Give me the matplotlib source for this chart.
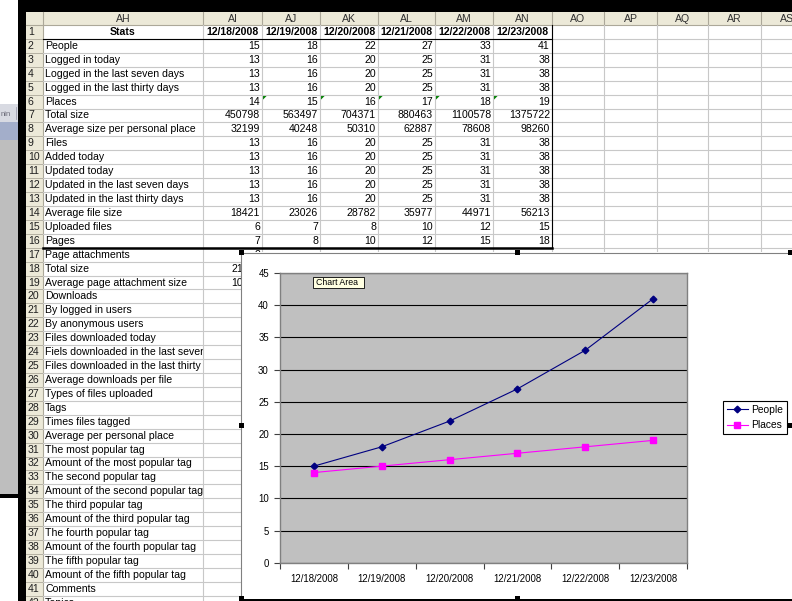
import matplotlib
matplotlib.use('Agg')
import matplotlib.pyplot as plt
from matplotlib.patches import Rectangle
from matplotlib.lines import Line2D

plt.rcParams['font.family'] = ['Liberation Sans', 'DejaVu Sans']

W, H = 792, 601

# --- data ---
dates = ['12/18/2008', '12/19/2008', '12/20/2008', '12/21/2008', '12/22/2008', '12/23/2008']
people = [15, 18, 22, 27, 33, 41]
logged_in = [13, 16, 20, 25, 31, 38]
places = [14, 15, 16, 17, 18, 19]
total_size = [450798, 563497, 704371, 880463, 1100578, 1375722]
avg_place_size = [32199, 40248, 50310, 62887, 78608, 98260]
files = [13, 16, 20, 25, 31, 38]
avg_file_size = [18421, 23026, 28782, 35977, 44971, 56213]
uploaded = [6, 7, 8, 10, 12, 15]
pages = [7, 8, 10, 12, 15, 18]
attach_first_day = ['2', '21106', '10553']

stat_labels = [
    'People', 'Logged in today', 'Logged in the last seven days',
    'Logged in the last thirty days', 'Places', 'Total size',
    'Average size per personal place', 'Files', 'Added today', 'Updated today',
    'Updated in the last seven days', 'Updated in the last thirty days',
    'Average file size', 'Uploaded files', 'Pages', 'Page attachments',
    'Total size', 'Average page attachment size', 'Downloads',
    'By logged in users', 'By anonymous users', 'Files downloaded today',
    'Fiels downloaded in the last seven days',
    'Files downloaded in the last thirty days', 'Average downloads per file',
    'Types of files uploaded', 'Tags', 'Times files tagged',
    'Average per personal place', 'The most popular tag',
    'Amount of the most popular tag', 'The second popular tag',
    'Amount of the second popular tag', 'The third popular tag',
    'Amount of the third popular tag', 'The fourth popular tag',
    'Amount of the fourth popular tag', 'The fifth popular tag',
    'Amount of the fifth popular tag', 'Comments', 'Topics',
]
table_values = [people, logged_in, logged_in, logged_in, places, total_size,
                avg_place_size, files, files, files, files, files,
                avg_file_size, uploaded, pages]
col_letters = ['AH', 'AI', 'AJ', 'AK', 'AL', 'AM', 'AN', 'AO', 'AP', 'AQ', 'AR', 'AS']

# --- sheet geometry (pixels) ---
col_edges = [43, 203, 262, 320, 378, 435, 493, 552, 604, 657, 708, 761, 814]
hdr_top, hdr_bot = 12, 25
row_h = 13.92
FS = 7.6
grid_c = '#C8C8C8'
hdr_c = '#ECE9D8'


def row_top(n):
    return hdr_bot + (n - 1) * row_h


fig = plt.figure(figsize=(W / 100, H / 100), dpi=100)
ax = fig.add_axes([0, 0, 1, 1])
ax.set_xlim(0, W)
ax.set_ylim(H, 0)
ax.axis('off')

# window pieces on the left
ax.add_patch(Rectangle((0, 104), 18, 18, fc='#D8DAE2', ec='none'))
ax.text(1, 114, 'nin', fontsize=5.5, color='#6A6A78', va='center')
ax.plot([16, 16], [107, 119], color='#A0A0B0', lw=0.6)
ax.add_patch(Rectangle((0, 122), 18, 18, fc='#A3AECA', ec='none'))
ax.add_patch(Rectangle((0, 140), 18, 354, fc='#BEBEBE', ec='none'))
ax.add_patch(Rectangle((0, 494), 18, 4, fc='black', ec='none'))
ax.add_patch(Rectangle((18, 0), W - 18, hdr_top, fc='black', ec='none'))
ax.add_patch(Rectangle((18, 0), 8, H, fc='black', ec='none'))

# header row and row header column
ax.add_patch(Rectangle((26, hdr_top), W - 26, hdr_bot - hdr_top, fc=hdr_c, ec='none'))
ax.add_patch(Rectangle((26, hdr_bot), 43 - 26, H - hdr_bot, fc=hdr_c, ec='none'))
for i, lab in enumerate(col_letters):
    x0, x1 = col_edges[i], col_edges[i + 1]
    ax.plot([x0, x0], [hdr_top, hdr_bot], color='#ACA899', lw=0.8)
    ax.text((x0 + x1) / 2, 18.8, lab, ha='center', va='center', fontsize=FS, color='#303030')
ax.plot([26, W], [hdr_bot, hdr_bot], color='#ACA899', lw=0.8)
ax.plot([43, 43], [hdr_bot, H], color='#ACA899', lw=0.8)

n_rows = len(stat_labels) + 1
for n in range(1, n_rows + 1):
    t = row_top(n)
    ax.plot([26, 43], [t + row_h, t + row_h], color='#ACA899', lw=0.6)
    ax.text(28, t + row_h / 2, str(n), ha='left', va='center', fontsize=FS, color='#202020')
    ax.plot([43, W], [t + row_h, t + row_h], color=grid_c, lw=0.8)
for x in col_edges[1:-1]:
    ax.plot([x, x], [hdr_bot, H], color=grid_c, lw=0.8)

# row 1 headings
ax.text((43 + 203) / 2, row_top(1) + row_h / 2, 'Stats', ha='center', va='center',
        fontsize=FS, fontweight='bold')
for i, d in enumerate(dates):
    x0, x1 = col_edges[i + 1], col_edges[i + 2]
    ax.text((x0 + x1) / 2, row_top(1) + row_h / 2, d, ha='center', va='center',
            fontsize=FS, fontweight='bold')

# labels in column AH, cut at the cell edge
for k, lab in enumerate(stat_labels):
    n = k + 2
    t = row_top(n)
    clip = Rectangle((43, t), 160, row_h, transform=ax.transData)
    txt = ax.text(45, t + row_h / 2, lab, ha='left', va='center', fontsize=FS)
    txt.set_clip_on(True)
    txt.set_clip_path(clip)

# numbers
for k, vals in enumerate(table_values):
    n = k + 2
    t = row_top(n)
    for i, v in enumerate(vals):
        x1 = col_edges[i + 2]
        ax.text(x1 - 2, t + row_h / 2, str(v), ha='right', va='center', fontsize=FS)
        if n == 6 and i > 0:
            x0 = col_edges[i + 1]
            ax.fill([x0 + 1, x0 + 5, x0 + 1], [t + 1, t + 1, t + 5], color='#008000', lw=0)
for k, v in enumerate(attach_first_day):
    t = row_top(17 + k)
    ax.text(260, t + row_h / 2, v, ha='right', va='center', fontsize=FS)

# table borders
ax.plot([43, 552], [row_top(2), row_top(2)], color='black', lw=0.8)
ax.plot([552, 552], [hdr_bot, row_top(17)], color='black', lw=0.8)
ax.plot([43, 552], [row_top(17), row_top(17)], color='black', lw=1.8)

# chart area
ax.add_patch(Rectangle((241, 252), W - 241, H - 252, fc='white', ec='none', zorder=5))
ax.plot([241, W], [252.5, 252.5], color='#808080', lw=0.8, zorder=6)
ax.plot([241, 241], [252, H], color='#808080', lw=0.8, zorder=6)
ax.add_patch(Rectangle((241, 599), W - 241, 2, fc='black', ec='none', zorder=6))

# plot area
cax = fig.add_axes([280 / W, 1 - 562.7 / H, 407 / W, (562.7 - 273) / H])
cax.set_zorder(2)
xs = list(range(len(dates)))
cax.plot(xs, people, color='#000080', marker='D', ms=3.4, lw=0.8, label='People')
cax.plot(xs, places, color='#FF00FF', marker='s', ms=3.8, lw=0.8, label='Places')
cax.set_xlim(-0.5, len(dates) - 0.5)
cax.set_ylim(0, 45)
cax.set_yticks(range(0, 46, 5))
cax.set_xticks(xs)
cax.set_xticklabels(dates)
cax.set_xticks([i - 0.5 for i in range(len(dates) + 1)], minor=True)
cax.set_facecolor('#C0C0C0')
cax.yaxis.grid(True, color='black', lw=0.8)
cax.set_axisbelow(True)
for s in cax.spines.values():
    s.set_color('#808080')
    s.set_linewidth(1)
cax.tick_params(axis='x', which='major', length=0, pad=8, labelsize=6.9)
cax.tick_params(axis='x', which='minor', length=4, color='#404040', width=0.8)
cax.tick_params(axis='y', length=4, pad=4, labelsize=6.9, color='#404040', width=0.8)

# overlay: tooltip, legend, handles
ov = fig.add_axes([0, 0, 1, 1])
ov.set_zorder(3)
ov.set_xlim(0, W)
ov.set_ylim(H, 0)
ov.axis('off')
ov.patch.set_alpha(0)
ov.add_patch(Rectangle((313, 277), 51, 11, fc='#FFFFE1', ec='black', lw=0.6))
ov.text(316, 282.8, 'Chart Area', ha='left', va='center', fontsize=6.3)
for hx, hy in [(241, 252), (517, 252), (790, 252), (241, 425), (790, 425), (241, 598), (517, 598)]:
    ov.add_patch(Rectangle((hx - 2, hy - 2), 4.5, 4.5, fc='black', ec='none'))

handles = [Line2D([], [], color='#000080', marker='D', ms=3.4, lw=0.8),
           Line2D([], [], color='#FF00FF', marker='s', ms=3.8, lw=0.8)]
leg = ov.legend(handles, ['People', 'Places'], loc='upper left',
                bbox_to_anchor=(723 / W, 1 - 401 / H), bbox_transform=fig.transFigure,
                fontsize=7.4, frameon=True, fancybox=False, framealpha=1,
                edgecolor='black', handlelength=2.1, handletextpad=0.3,
                borderpad=0.35, labelspacing=0.55, borderaxespad=0)
leg.get_frame().set_linewidth(0.8)

fig.savefig('out.png', dpi=100)
